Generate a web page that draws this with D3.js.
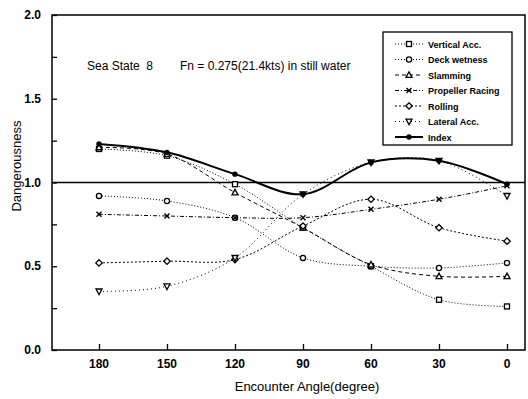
<!DOCTYPE html>
<html>
<head>
<meta charset="utf-8">
<script src="https://cdn.jsdelivr.net/npm/d3@7"></script>
<style>
  body { margin: 0; background: #fff; }
  text { font-family: "Liberation Sans", Arial, sans-serif; fill: #000; }
  .tickLb { font-size: 12px; font-weight: bold; }
  .axisLb { font-size: 13px; }
  .legLb { font-size: 9px; font-weight: bold; }
</style>
</head>
<body>
<div id="main"></div>
<script>
// encounter angles (x) and tick labels
var angles = [180, 150, 120, 90, 60, 30, 0];
var yTicks = [0.0, 0.5, 1.0, 1.5, 2.0];
var seriesNames = ["Vertical Acc.", "Deck wetness", "Slamming", "Propeller Racing", "Rolling", "Lateral Acc.", "Index"];
// dangerousness, one value per angle
var verticalAcc = [1.20, 1.16, 0.99, 0.73, 0.50, 0.30, 0.26];
var deckWetness = [0.92, 0.89, 0.79, 0.55, 0.50, 0.49, 0.52];
var slamming = [1.21, 1.17, 0.94, 0.73, 0.51, 0.44, 0.44];
var propellerRacing = [0.81, 0.80, 0.79, 0.79, 0.84, 0.90, 0.98];
var rolling = [0.52, 0.53, 0.54, 0.74, 0.90, 0.73, 0.65];
var lateralAcc = [0.35, 0.38, 0.55, 0.93, 1.12, 1.13, 0.92];
var indexVal = [1.23, 1.18, 1.05, 0.93, 1.12, 1.13, 0.99];

var ctx = {
    w: 528,
    h: 399,
    left: 52,
    right: 525,
    top: 15,
    bottom: 350,
};

// line style + marker for each series
var styles = [
    {dash: "1,2", sym: "square", width: 1},
    {dash: "1,2", sym: "circle", width: 1},
    {dash: "4,3", sym: "triangle", width: 1},
    {dash: "4,2,1,2", sym: "cross", width: 1},
    {dash: "2,2", sym: "diamond", width: 1},
    {dash: "1,3", sym: "triangleDown", width: 1},
    {dash: null, sym: "dot", width: 2},
];

var drawMarker = function(g, sym, x, y){
    if (sym == "square"){
        g.append("rect").attr("x", x-2.5).attr("y", y-2.5).attr("width", 5).attr("height", 5)
         .attr("fill", "#fff").attr("stroke", "#000").attr("stroke-width", 1.3);
    } else if (sym == "circle"){
        g.append("circle").attr("cx", x).attr("cy", y).attr("r", 2.6)
         .attr("fill", "#fff").attr("stroke", "#000").attr("stroke-width", 1.3);
    } else if (sym == "dot"){
        g.append("circle").attr("cx", x).attr("cy", y).attr("r", 2.7).attr("fill", "#000");
    } else if (sym == "cross"){
        g.append("path").attr("d", `M${x-2.5},${y-2.5}L${x+2.5},${y+2.5}M${x-2.5},${y+2.5}L${x+2.5},${y-2.5}`)
         .attr("stroke", "#000").attr("stroke-width", 1.4);
    } else if (sym == "diamond"){
        g.append("path").attr("d", `M${x},${y-3.2}L${x+3.2},${y}L${x},${y+3.2}L${x-3.2},${y}Z`)
         .attr("fill", "#fff").attr("stroke", "#000").attr("stroke-width", 1.3);
    } else if (sym == "triangle"){
        g.append("path").attr("d", `M${x},${y-3.2}L${x+3},${y+2.4}L${x-3},${y+2.4}Z`)
         .attr("fill", "#fff").attr("stroke", "#000").attr("stroke-width", 1.3);
    } else if (sym == "triangleDown"){
        g.append("path").attr("d", `M${x},${y+3.2}L${x+3},${y-2.4}L${x-3},${y-2.4}Z`)
         .attr("fill", "#fff").attr("stroke", "#000").attr("stroke-width", 1.3);
    }
};

var createViz = function(){
    var svgEl = d3.select("#main").append("svg")
                  .attr("width", ctx.w).attr("height", ctx.h);
    var bkgG = svgEl.append("g");

    ctx.xScale = d3.scaleLinear().domain([180, 0]).range([99, 507]);
    ctx.yScale = d3.scaleLinear().domain([0, 2]).range([ctx.bottom, ctx.top]);

    // frame
    bkgG.append("rect")
        .attr("x", ctx.left).attr("y", ctx.top)
        .attr("width", ctx.right - ctx.left).attr("height", ctx.bottom - ctx.top)
        .attr("fill", "none").attr("stroke", "#000").attr("stroke-width", 1.5);

    // y ticks (inward), minor every 0.25
    var yAx = bkgG.append("g").attr("transform", `translate(${ctx.left},0)`)
        .call(d3.axisRight(ctx.yScale).tickValues(d3.range(0, 2.01, 0.25))
              .tickSize(5).tickFormat(""));
    yAx.select(".domain").remove();
    yAx.selectAll("line").attr("stroke-width", 1.3);
    bkgG.selectAll(".yLb").data(yTicks).enter().append("text")
        .classed("tickLb", true)
        .attr("x", ctx.left - 11)
        .attr("y", function(d){ return ctx.yScale(d) + 4; })
        .attr("text-anchor", "end")
        .text(function(d){ return d3.format(".1f")(d); });

    // x ticks (inward)
    var xAx = bkgG.append("g").attr("transform", `translate(0,${ctx.bottom})`)
        .call(d3.axisTop(ctx.xScale).tickValues(angles).tickSize(6).tickFormat(""));
    xAx.select(".domain").remove();
    xAx.selectAll("line").attr("stroke-width", 1.3);
    bkgG.selectAll(".xLb").data(angles).enter().append("text")
        .classed("tickLb", true)
        .attr("x", function(d){ return ctx.xScale(d); })
        .attr("y", ctx.bottom + 18)
        .attr("text-anchor", "middle")
        .text(function(d){ return d; });

    // axis labels
    bkgG.append("text").classed("axisLb", true)
        .attr("x", 307).attr("y", 391)
        .attr("text-anchor", "middle")
        .text("Encounter Angle(degree)");
    bkgG.append("text").classed("axisLb", true)
        .attr("transform", `translate(21,166) rotate(-90)`)
        .attr("text-anchor", "middle")
        .text("Dangerousness");

    // reference line at 1.0
    bkgG.append("line")
        .attr("x1", ctx.left).attr("x2", ctx.right)
        .attr("y1", ctx.yScale(1)).attr("y2", ctx.yScale(1))
        .attr("stroke", "#000").attr("stroke-width", 1.6);

    // annotation
    bkgG.append("text").attr("x", 87).attr("y", 70)
        .style("font-size", "12px")
        .attr("xml:space", "preserve")
        .text("Sea State  8");
    bkgG.append("text").attr("x", 180).attr("y", 70)
        .style("font-size", "12px")
        .text("Fn = 0.275(21.4kts) in still water");

    // series
    var allSeries = [verticalAcc, deckWetness, slamming, propellerRacing, rolling, lateralAcc, indexVal];
    var lineGen = d3.line()
        .x(function(d, i){ return ctx.xScale(angles[i]); })
        .y(function(d){ return ctx.yScale(d); })
        .curve(d3.curveCatmullRom.alpha(0.5));
    var seriesG = svgEl.append("g");
    allSeries.forEach(function(vals, k){
        var st = styles[k];
        var g = seriesG.append("g");
        g.append("path").attr("d", lineGen(vals))
         .attr("fill", "none").attr("stroke", "#000")
         .attr("stroke-width", st.width)
         .attr("stroke-dasharray", st.dash);
        vals.forEach(function(v, i){
            drawMarker(g, st.sym, ctx.xScale(angles[i]), ctx.yScale(v));
        });
    });

    // legend
    var legG = svgEl.append("g");
    legG.append("rect").attr("x", 383).attr("y", 32).attr("width", 129).attr("height", 113)
        .attr("fill", "#fff").attr("stroke", "#000").attr("stroke-width", 1.3);
    seriesNames.forEach(function(name, k){
        var y = 44 + k * 15.5;
        var st = styles[k];
        legG.append("line").attr("x1", 395).attr("x2", 423).attr("y1", y).attr("y2", y)
            .attr("stroke", "#000").attr("stroke-width", st.width)
            .attr("stroke-dasharray", st.dash);
        drawMarker(legG, st.sym, 409, y);
        legG.append("text").classed("legLb", true)
            .attr("x", 428).attr("y", y + 3.5)
            .text(name);
    });
};

createViz();
</script>
</body>
</html>
